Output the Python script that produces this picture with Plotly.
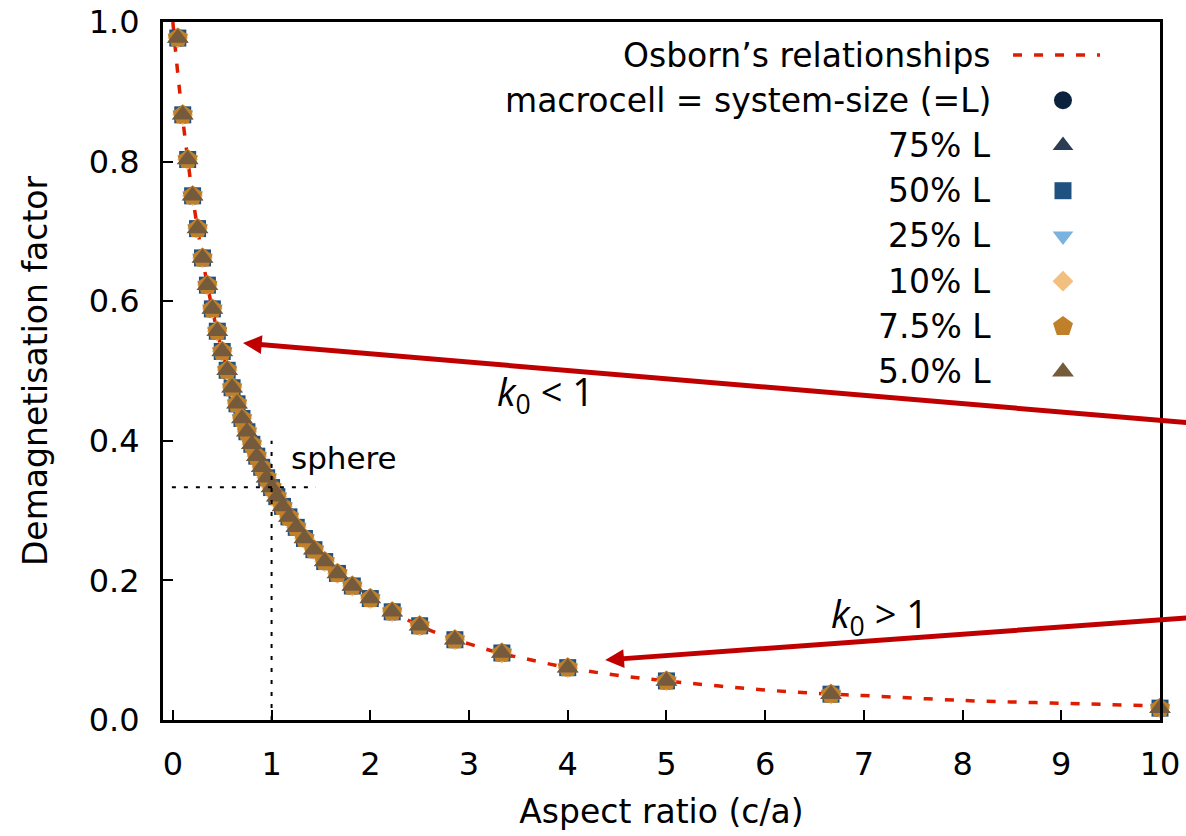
import plotly.graph_objects as go

# ---------------- data ----------------
aspect_ratio = [0.05, 0.10, 0.15, 0.20, 0.25, 0.30, 0.35, 0.40, 0.45, 0.50,
                0.55, 0.60, 0.65, 0.70, 0.75, 0.80, 0.85, 0.90, 0.95, 1.00,
                1.053, 1.111, 1.176, 1.25, 1.333, 1.429, 1.538, 1.667, 1.818, 2.0,
                2.222, 2.5, 2.857, 3.333, 4.0, 5.0, 6.667, 10.0]

demag_sim = [0.977, 0.867, 0.803, 0.751, 0.704, 0.662, 0.623, 0.589, 0.557, 0.528,
             0.501, 0.476, 0.453, 0.432, 0.413, 0.395, 0.378, 0.362, 0.347, 0.333,
             0.320, 0.306, 0.291, 0.276, 0.260, 0.244, 0.227, 0.210, 0.192, 0.174,
             0.155, 0.135, 0.115, 0.096, 0.075, 0.056, 0.037, 0.017]

osborn_x = [0.0, 0.02, 0.05, 0.10, 0.15, 0.20, 0.25, 0.30, 0.35, 0.40, 0.45, 0.50,
            0.55, 0.60, 0.65, 0.70, 0.75, 0.80, 0.85, 0.90, 0.95, 1.00, 1.05, 1.111,
            1.176, 1.25, 1.333, 1.429, 1.538, 1.667, 1.818, 2.0, 2.222, 2.5, 2.857,
            3.0, 3.333, 3.5, 4.0, 4.5, 5.0, 6.0, 6.667, 7.0, 8.0, 9.0, 10.0]
osborn_y = [1.0, 0.969, 0.926, 0.861, 0.804, 0.750, 0.704, 0.661, 0.623, 0.588, 0.556, 0.527,
            0.500, 0.476, 0.453, 0.432, 0.413, 0.394, 0.378, 0.362, 0.347, 0.333, 0.320, 0.306,
            0.291, 0.276, 0.260, 0.244, 0.227, 0.210, 0.192, 0.174, 0.155, 0.135, 0.115,
            0.109, 0.095, 0.090, 0.075, 0.064, 0.056, 0.043, 0.037, 0.035, 0.028, 0.024, 0.020]

osborn_label = "Osborn’s relationships"
series_labels = ["macrocell = system-size (=L)", "75% L", "50% L", "25% L",
                 "10% L", "7.5% L", "5.0% L"]
series_values = {lab: demag_sim for lab in series_labels}
series_symbols = ["circle", "triangle-up", "square", "triangle-down",
                  "diamond", "pentagon", "triangle-up"]
series_colors = ["#0c2340", "#2b3d52", "#1f5280", "#7ab2e0",
                 "#f2bf7e", "#c0802a", "#765a3c"]
series_sizes = [18, 18, 17, 18, 16, 21, 19]

x_ticks = [0, 1, 2, 3, 4, 5, 6, 7, 8, 9, 10]
y_ticks = [0.0, 0.2, 0.4, 0.6, 0.8, 1.0]

FONT = "DejaVu Sans"
KFONT = "Open Sans"
RED = "#dd1c00"
ARROW = "#c00000"

fig = go.Figure()

# Osborn curve
fig.add_trace(go.Scatter(x=osborn_x, y=osborn_y, mode="lines", line_shape="spline",
                         line=dict(color=RED, width=3.5, dash="9px,12px"),
                         showlegend=False, hoverinfo="skip"))

# simulation series
for lab, sym, col, sz in zip(series_labels, series_symbols, series_colors, series_sizes):
    fig.add_trace(go.Scatter(x=aspect_ratio, y=series_values[lab], mode="markers",
                             marker=dict(symbol=sym, color=col, size=sz, line=dict(width=0)),
                             cliponaxis=False, showlegend=False, name=lab))

# ---------------- custom legend (text right, key on right) ----------------
leg_text_x = 0.832
leg_key_x = 0.9027
leg_top = 0.9527
leg_step = 0.0648
all_labels = [osborn_label] + series_labels
annotations = []
for i, lab in enumerate(all_labels):
    annotations.append(dict(xref="paper", yref="paper", x=leg_text_x, y=leg_top - i * leg_step,
                            text=lab, showarrow=False, xanchor="right", yanchor="middle",
                            font=dict(family=FONT, size=33, color="black")))

fig.add_trace(go.Scatter(x=[0.8526, 0.9398], y=[leg_top, leg_top], xaxis="x2", yaxis="y2",
                         mode="lines", line=dict(color=RED, width=3.5, dash="9px,12px"),
                         cliponaxis=False, showlegend=False, hoverinfo="skip"))
for i, (sym, col, sz) in enumerate(zip(series_symbols, series_colors, series_sizes)):
    fig.add_trace(go.Scatter(x=[leg_key_x], y=[leg_top - (i + 1) * leg_step], xaxis="x2", yaxis="y2",
                             mode="markers", marker=dict(symbol=sym, color=col, size=sz, line=dict(width=0)),
                             cliponaxis=False, showlegend=False, hoverinfo="skip"))

# ---------------- sphere guide lines ----------------
shapes = [
    dict(type="line", xref="x", yref="y", x0=-0.01, x1=1.45, y0=1/3, y1=1/3,
         line=dict(color="black", width=2, dash="4px,8px")),
    dict(type="line", xref="x", yref="y", x0=1, x1=1, y0=0, y1=0.40,
         line=dict(color="black", width=2, dash="4px,8px")),
]
annotations.append(dict(xref="x", yref="y", x=1.18, y=0.375, text="sphere", showarrow=False,
                        xanchor="left", yanchor="middle",
                        font=dict(family=FONT, size=31, color="black")))

# ---------------- arrows ----------------
annotations.append(dict(xref="x", yref="y", axref="x", ayref="y",
                        x=0.71, y=0.540, ax=10.45, ay=0.424, text="", showarrow=True,
                        arrowhead=2, arrowsize=0.75, arrowwidth=5, arrowcolor=ARROW, standoff=0))
annotations.append(dict(xref="x", yref="y", axref="x", ayref="y",
                        x=4.38, y=0.086, ax=10.45, ay=0.148, text="", showarrow=True,
                        arrowhead=2, arrowsize=0.75, arrowwidth=5, arrowcolor=ARROW, standoff=0))
annotations.append(dict(xref="x", yref="y", x=3.77, y=0.468,
                        text="<i>k</i><sub>0</sub> &lt; 1", showarrow=False,
                        font=dict(family=KFONT, size=38, color="black")))
annotations.append(dict(xref="x", yref="y", x=7.16, y=0.150,
                        text="<i>k</i><sub>0</sub> &gt; 1", showarrow=False,
                        font=dict(family=KFONT, size=38, color="black")))

axis_common = dict(showline=True, linewidth=3, linecolor="black", mirror=True,
                   ticks="inside", ticklen=10, tickwidth=2, tickcolor="black",
                   showgrid=False, zeroline=False, automargin=False,
                   tickfont=dict(family=FONT, size=32, color="black"))

fig.update_layout(
    width=1186, height=836,
    margin=dict(l=163, r=26, t=22, b=116),
    paper_bgcolor="white", plot_bgcolor="white",
    xaxis=dict(range=[-0.1, 10.0], tickvals=x_ticks, ticktext=[str(v) for v in x_ticks],
               ticklabelstandoff=14,
               title=dict(text="Aspect ratio (c/a)", font=dict(family=FONT, size=33, color="black"),
                          standoff=18),
               **axis_common),
    yaxis=dict(range=[0, 1.0], tickvals=y_ticks, ticktext=[f"{v:.1f}" for v in y_ticks],
               ticklabelstandoff=14,
               title=dict(text="Demagnetisation factor", font=dict(family=FONT, size=33, color="black"),
                          standoff=32),
               **axis_common),
    xaxis2=dict(domain=[0, 1], range=[0, 1], overlaying="x", anchor="y2", visible=False),
    yaxis2=dict(range=[0, 1], overlaying="y", anchor="x2", visible=False),
    shapes=shapes,
    annotations=annotations,
    showlegend=False,
)

fig.write_html("out.html")
